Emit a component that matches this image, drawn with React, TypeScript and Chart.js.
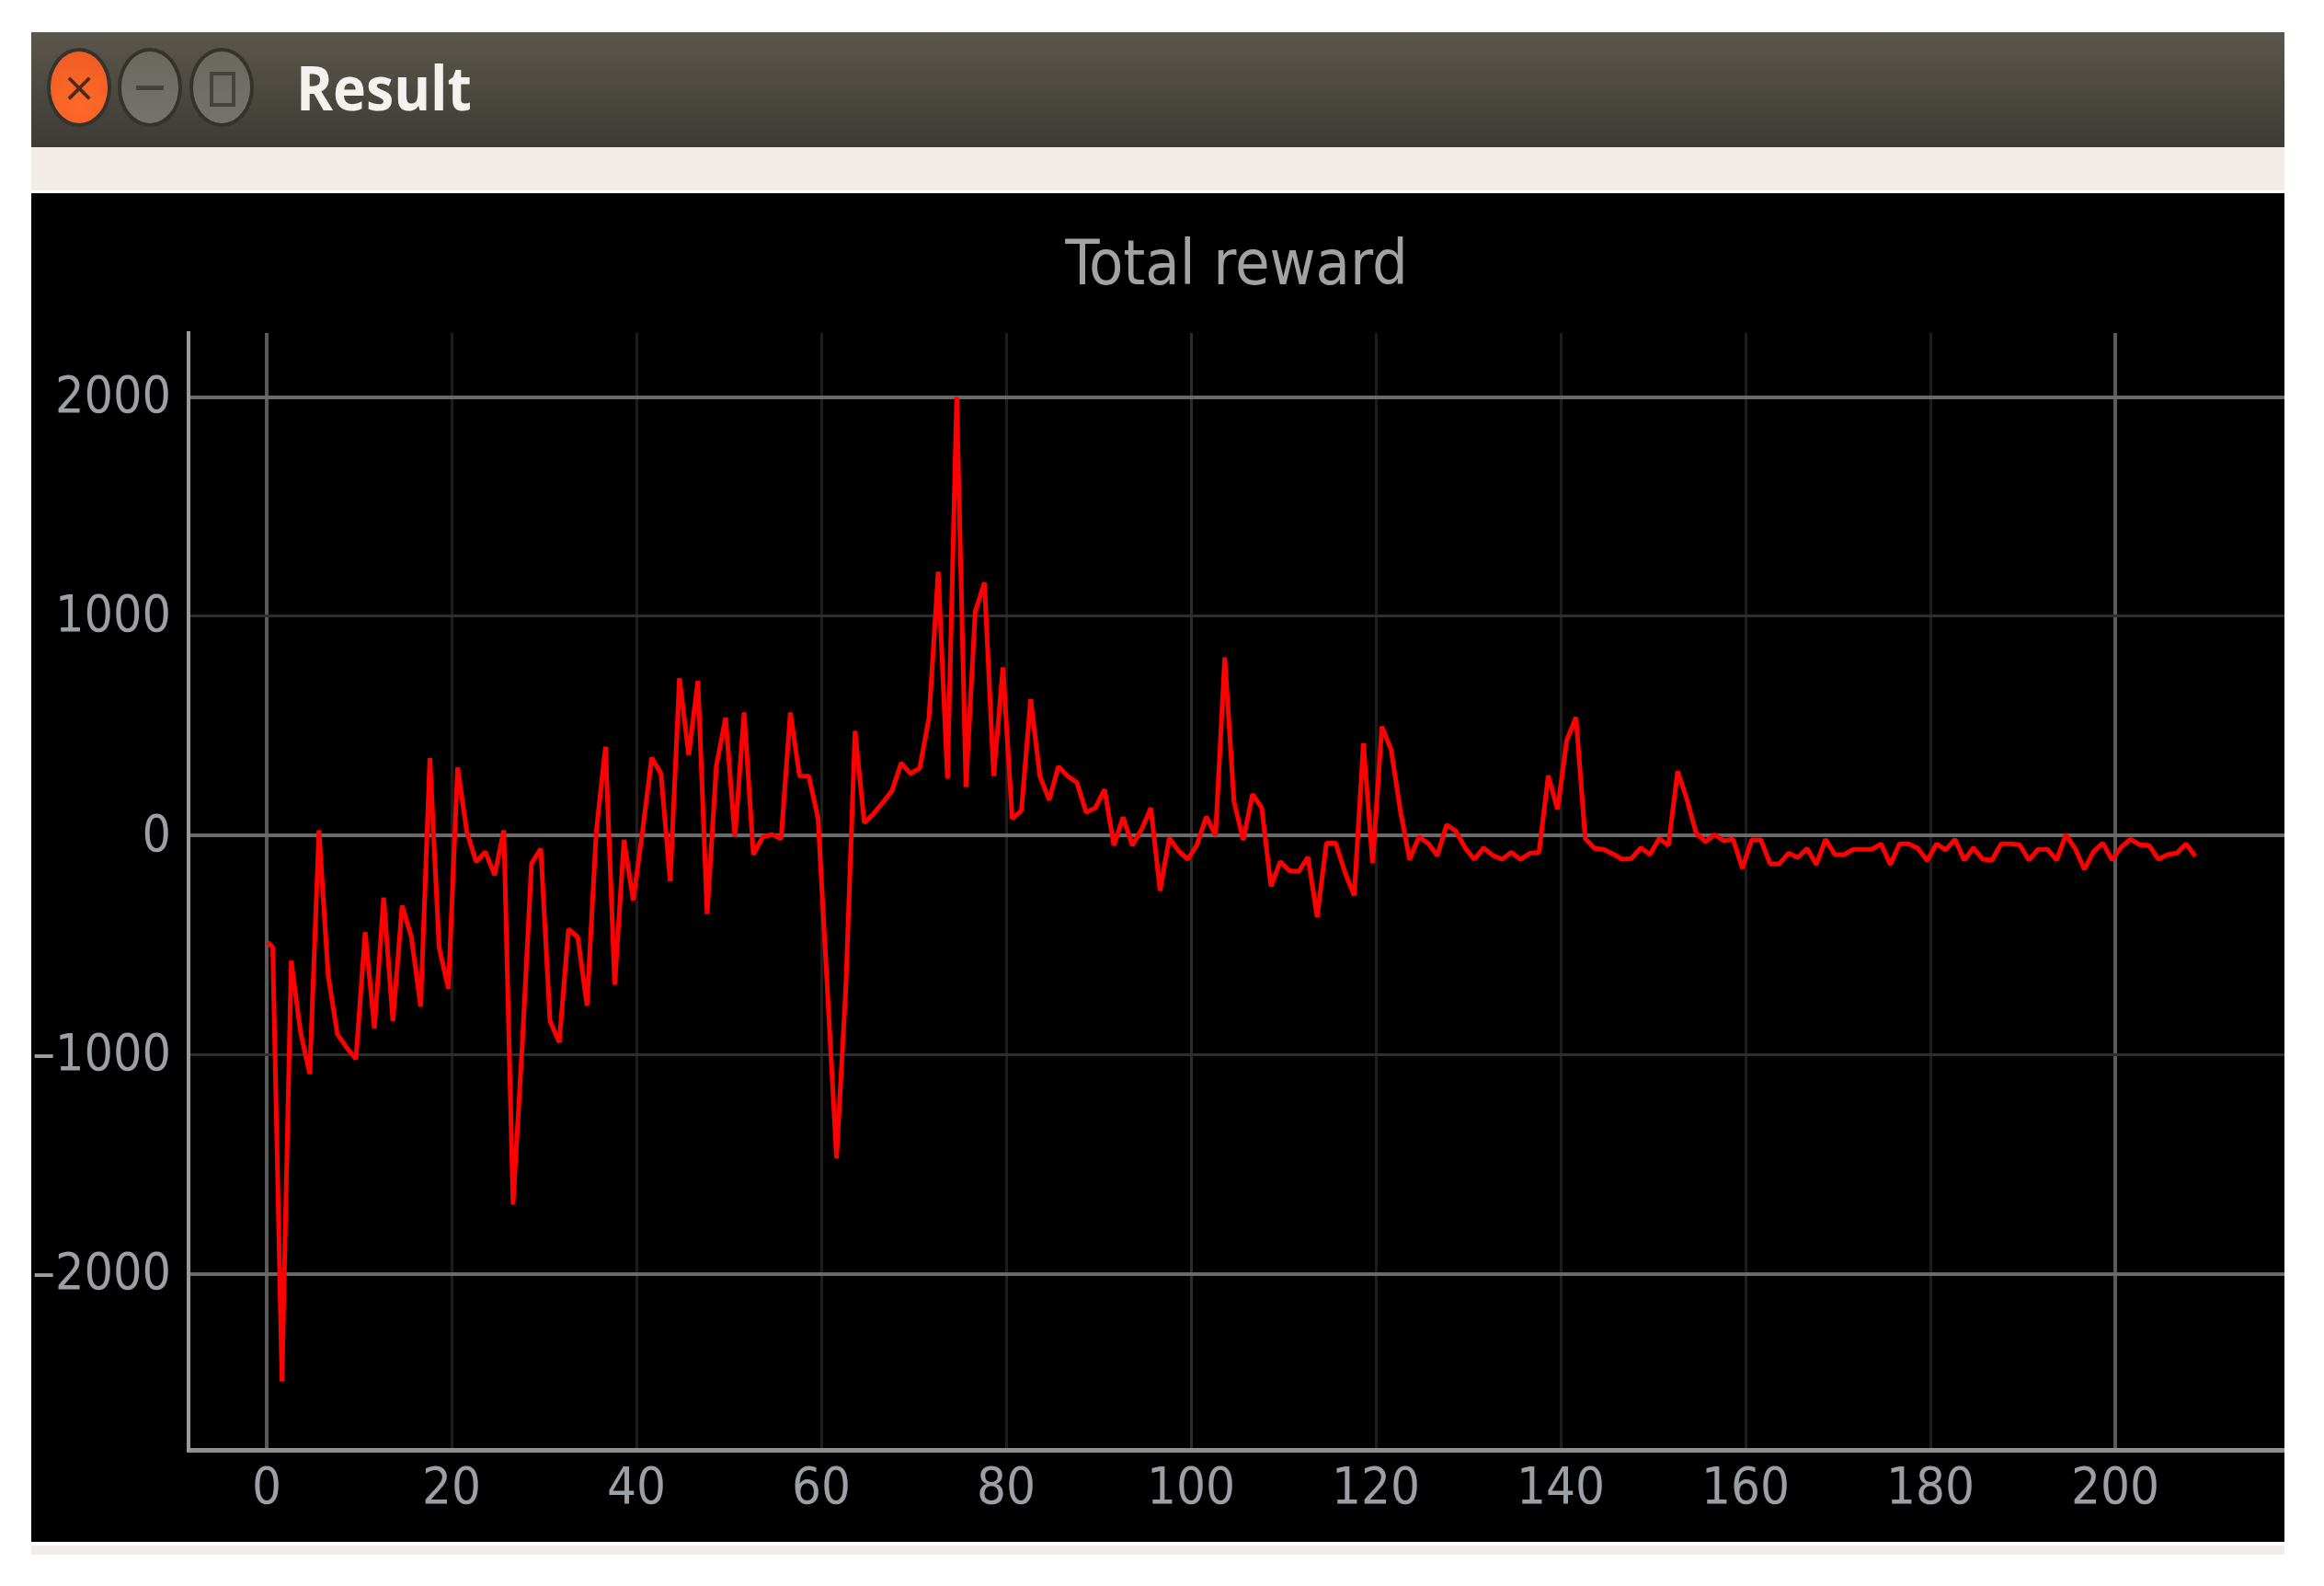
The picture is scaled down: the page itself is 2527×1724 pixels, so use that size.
import React, { useEffect, useRef } from "react";
import { Chart, registerables } from "chart.js";

Chart.register(...registerables);

const windowTitle = "Result";
const chartTitle = "Total reward";
const xTickValues = [0, 20, 40, 60, 80, 100, 120, 140, 160, 180, 200];
const yTickValues = [-2000, -1000, 0, 1000, 2000];
const firstEpisode = 0.1;
const firstReward = -487;
const episodeOffset = 0.65;
const rewards = [
  -510, -2490, -571, -895, -1087, 24, -640, -907, -967, -1020,
  -440, -880, -283, -847, -320, -463, -780, 353, -511, -698,
  310, 17, -120, -74, -180, 24, -1682, -953, -127, -60,
  -847, -943, -427, -463, -775, 17, 405, -680, -20, -295,
  17, 355, 283, -208, 718, 368, 706, -358, 320, 537,
  -7, 561, -87, -7, 5, -15, 561, 271, 271, 77,
  -697, -1471, -697, 477, 58, 100, 150, 205, 331, 283,
  307, 537, 1203, 259, 2000, 222, 1021, 1154, 271, 767,
  77, 114, 622, 271, 162, 315, 271, 242, 106, 126,
  210, -45, 84, -45, 28, 126, -252, -11, -70, -109,
  -42, 87, 0, 812, 154, -21, 189, 126, -231, -119,
  -161, -164, -98, -371, -35, -35, -168, -273, 420, -126,
  497, 392, 112, -109, -7, -35, -91, 49, 21, -56,
  -109, -56, -91, -108, -77, -109, -81, -77, 273, 119,
  434, 539, -14, -59, -63, -84, -108, -105, -56, -87,
  -14, -45, 294, 165, 11, -28, 4, -24, -17, -150,
  -20, -20, -129, -129, -80, -101, -59, -132, -17, -87,
  -87, -63, -63, -63, -38, -132, -38, -38, -59, -115,
  -38, -66, -17, -112, -56, -108, -112, -38, -38, -42,
  -112, -63, -63, -112, 4, -59, -154, -73, -34, -112,
  -52, -17, -42, -45, -108, -87, -80, -38, -94,
];
const episodes = [firstEpisode, ...rewards.map((_, i) => i + episodeOffset)];
const series = [firstReward, ...rewards];

const FONT = '"DejaVu Sans Condensed", "DejaVu Sans", sans-serif';

const btn = (left: number, bg: string): React.CSSProperties => ({
  position: "absolute",
  left,
  top: 21,
  width: 62,
  height: 78,
  borderRadius: "50%",
  background: bg,
  boxShadow: "0 0 0 4px #35332d",
});

export default function App() {
  const ref = useRef<HTMLCanvasElement>(null);
  useEffect(() => {
    document.body.style.margin = "0";
    document.body.style.background = "#ffffff";
    const chart = new Chart(ref.current!, {
      type: "line",
      data: {
        datasets: [
          {
            data: episodes.map((x, i) => ({ x, y: series[i] })),
            borderColor: "#ff0000",
            borderWidth: 5,
            pointRadius: 0,
            tension: 0,
            borderJoinStyle: "bevel",
          },
        ],
      },
      options: {
        animation: false,
        responsive: false,
        events: [],
        layout: { padding: 0 },
        plugins: {
          legend: { display: false },
          tooltip: { enabled: false },
          title: {
            display: true,
            text: chartTitle,
            fullSize: false,
            color: "#a2a2a2",
            font: { family: FONT, size: 68, weight: "normal", lineHeight: 1 },
            padding: { top: 47, bottom: 37 },
          },
        },
        scales: {
          x: {
            type: "linear",
            min: -8.46,
            max: 218.3,
            afterFit: (s: any) => {
              s.height = 100;
            },
            afterBuildTicks: (s: any) => {
              s.ticks = xTickValues.map((value) => ({ value }));
            },
            border: { color: "#8f8f8f", width: 5 },
            grid: {
              drawTicks: false,
              color: (c: any) =>
                c.tick && c.tick.value % 200 === 0
                  ? "#5a5a5a"
                  : c.tick && c.tick.value % 100 === 0
                  ? "#2c2c2c"
                  : "#1d1d1d",
              lineWidth: (c: any) => (c.tick && c.tick.value % 200 === 0 ? 4 : 3),
            },
            ticks: {
              maxRotation: 0,
              autoSkip: false,
              color: "#9aa0a4",
              padding: 10,
              font: { family: FONT, size: 56 },
            },
          },
          y: {
            type: "linear",
            min: -2802,
            max: 2292,
            afterFit: (s: any) => {
              s.width = 171;
            },
            afterBuildTicks: (s: any) => {
              s.ticks = yTickValues.map((value) => ({ value }));
            },
            border: { color: "#9a9a9a", width: 4 },
            grid: {
              drawTicks: false,
              color: (c: any) =>
                c.tick && c.tick.value % 2000 === 0 ? "#6a6a6a" : "#2e2e2e",
              lineWidth: (c: any) => (c.tick && c.tick.value % 2000 === 0 ? 4 : 3),
            },
            ticks: {
              color: "#9aa0a4",
              padding: 19,
              labelOffset: 2,
              font: { family: FONT, size: 55 },
              callback: (v: any) =>
                Number(v) < 0 ? "\u2013" + Math.abs(Number(v)) : String(v),
            },
          },
        },
      },
    } as any);
    return () => chart.destroy();
  }, []);

  return (
    <div style={{ position: "relative", width: 2527, height: 1724, background: "#fff", overflow: "hidden" }}>
      <div
        style={{
          position: "absolute",
          left: 34,
          top: 35,
          width: 2450,
          height: 125,
          background: "linear-gradient(#5b574c, #3e3b35)",
        }}
      >
        <div style={btn(21, "radial-gradient(circle at 50% 75%, #ff6a2a, #ef5a22)")}>
          <div style={{ position: "absolute", inset: 0, textAlign: "center", lineHeight: "78px", fontFamily: "DejaVu Sans", fontSize: 44, color: "#4a2a1c" }}>×</div>
        </div>
        <div style={btn(98, "linear-gradient(#6a685f, #75736b)")}>
          <div style={{ position: "absolute", left: 16, top: 37, width: 30, height: 5, background: "#45433d" }} />
        </div>
        <div style={btn(176, "linear-gradient(#6a685f, #75736b)")}>
          <div style={{ position: "absolute", left: 18, top: 22, width: 20, height: 30, border: "4px solid #45433d" }} />
        </div>
        <div
          style={{
            position: "absolute",
            left: 288,
            top: 14,
            fontFamily: '"Open Sans", sans-serif',
            fontWeight: 700,
            fontSize: 66,
            lineHeight: "90px",
            color: "#f4f2ee",
            transformOrigin: "left center",
            transform: "scaleX(0.92)",
            whiteSpace: "nowrap",
          }}
        >
          {windowTitle}
        </div>
      </div>
      <div style={{ position: "absolute", left: 34, top: 160, width: 2450, height: 47, background: "#f1ece7" }} />
      <canvas
        ref={ref}
        width={2450}
        height={1466}
        style={{ position: "absolute", left: 34, top: 210, width: 2450, height: 1466, background: "#000" }}
      />
      <div style={{ position: "absolute", left: 34, top: 1680, width: 2450, height: 10, background: "#f1ece7" }} />
    </div>
  );
}
